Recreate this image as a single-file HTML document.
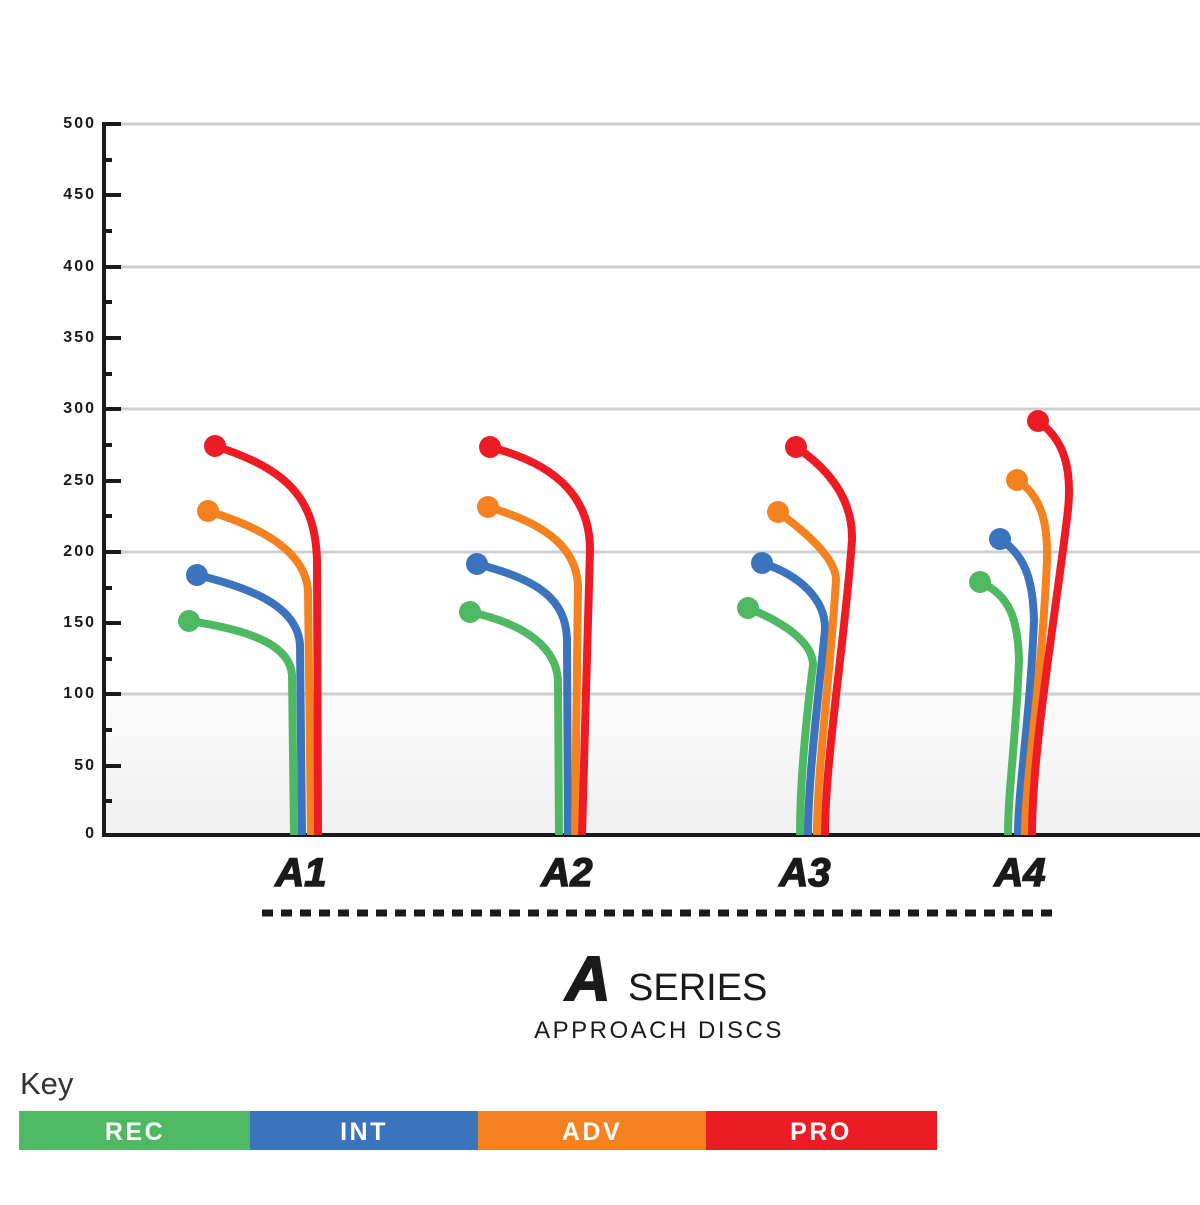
<!DOCTYPE html>
<html><head><meta charset="utf-8"><style>
body{margin:0;background:#fff;width:1200px;height:1200px;overflow:hidden;font-family:"Liberation Sans",sans-serif}
</style></head><body>
<svg width="1200" height="1200" viewBox="0 0 1200 1200" xmlns="http://www.w3.org/2000/svg">
<defs><linearGradient id="bg" x1="0" y1="0" x2="0" y2="1"><stop offset="0" stop-color="#fbfbfb"/><stop offset="1" stop-color="#f0f0f0"/></linearGradient></defs>
<rect x="104" y="694" width="1096" height="141" fill="url(#bg)"/>
<g stroke="#cfcfcf" stroke-width="3">
<line x1="120" y1="124" x2="1200" y2="124"/><line x1="120" y1="267" x2="1200" y2="267"/><line x1="120" y1="409" x2="1200" y2="409"/><line x1="120" y1="552" x2="1200" y2="552"/><line x1="120" y1="694" x2="1200" y2="694"/>
</g>
<g stroke="#1a1a1a">
<line x1="104" y1="122" x2="104" y2="837" stroke-width="4"/>
<line x1="102" y1="835" x2="1200" y2="835" stroke-width="4"/>
<g stroke-width="4">
<line x1="104" y1="124" x2="121" y2="124"/><line x1="104" y1="195" x2="121" y2="195"/><line x1="104" y1="267" x2="121" y2="267"/><line x1="104" y1="338" x2="121" y2="338"/><line x1="104" y1="409" x2="121" y2="409"/><line x1="104" y1="481" x2="121" y2="481"/><line x1="104" y1="552" x2="121" y2="552"/><line x1="104" y1="623" x2="121" y2="623"/><line x1="104" y1="694" x2="121" y2="694"/><line x1="104" y1="766" x2="121" y2="766"/>
<line x1="104" y1="160" x2="112" y2="160"/><line x1="104" y1="231" x2="112" y2="231"/><line x1="104" y1="302" x2="112" y2="302"/><line x1="104" y1="374" x2="112" y2="374"/><line x1="104" y1="445" x2="112" y2="445"/><line x1="104" y1="516" x2="112" y2="516"/><line x1="104" y1="588" x2="112" y2="588"/><line x1="104" y1="659" x2="112" y2="659"/><line x1="104" y1="730" x2="112" y2="730"/><line x1="104" y1="801" x2="112" y2="801"/>
</g></g>
<g font-size="16" font-weight="bold" fill="#1a1a1a" text-anchor="end" letter-spacing="2">
<text x="96" y="128">500</text><text x="96" y="199">450</text><text x="96" y="271">400</text><text x="96" y="342">350</text><text x="96" y="413">300</text><text x="96" y="485">250</text><text x="96" y="556">200</text><text x="96" y="627">150</text><text x="96" y="698">100</text><text x="96" y="770">50</text><text x="96" y="838">0</text>
</g>
<g fill="none" stroke-width="8" stroke-linecap="butt">
<path d="M189,621 C250,630 290,645 292,675 L294,835" stroke="#4fb862"/>
<path d="M197,575 C260,590 298,610 300,645 L302,835" stroke="#3b74bc"/>
<path d="M208,511 C270,530 305,555 308,590 L311,835" stroke="#f58220"/>
<path d="M215,446 C290,470 315,500 317,560 L318,835" stroke="#ed1c24"/>
<path d="M470,612 C530,625 556,650 558,680 L559,835" stroke="#4fb862"/>
<path d="M477,564 C540,580 566,600 567,640 L568,835" stroke="#3b74bc"/>
<path d="M488,507 C550,525 576,550 578,585 L575,835" stroke="#f58220"/>
<path d="M490,447 C560,465 590,500 590,550 L582,835" stroke="#ed1c24"/>
<path d="M748,608 C790,625 813,645 813,665 C806,720 800,780 800,835" stroke="#4fb862"/>
<path d="M762,563 C800,575 826,600 825,630 C818,700 808,780 808,835" stroke="#3b74bc"/>
<path d="M778,512 C810,535 836,560 836,580 C830,680 817,770 817,835" stroke="#f58220"/>
<path d="M796,447 C830,470 853,500 852,540 C845,640 825,760 825,835" stroke="#ed1c24"/>
<path d="M980,582 C1010,595 1018,620 1019,660 C1016,740 1008,790 1008,835" stroke="#4fb862"/>
<path d="M1000,539 C1025,555 1033,580 1034,620 C1030,720 1018,790 1018,835" stroke="#3b74bc"/>
<path d="M1017,480 C1040,495 1048,520 1047,560 C1042,680 1025,780 1025,835" stroke="#f58220"/>
<path d="M1038,421 C1065,440 1072,470 1068,510 C1055,620 1032,750 1032,835" stroke="#ed1c24"/>
</g>
<g>
<circle cx="189" cy="621" r="11" fill="#4fb862"/><circle cx="197" cy="575" r="11" fill="#3b74bc"/><circle cx="208" cy="511" r="11" fill="#f58220"/><circle cx="215" cy="446" r="11" fill="#ed1c24"/>
<circle cx="470" cy="612" r="11" fill="#4fb862"/><circle cx="477" cy="564" r="11" fill="#3b74bc"/><circle cx="488" cy="507" r="11" fill="#f58220"/><circle cx="490" cy="447" r="11" fill="#ed1c24"/>
<circle cx="748" cy="608" r="11" fill="#4fb862"/><circle cx="762" cy="563" r="11" fill="#3b74bc"/><circle cx="778" cy="512" r="11" fill="#f58220"/><circle cx="796" cy="447" r="11" fill="#ed1c24"/>
<circle cx="980" cy="582" r="11" fill="#4fb862"/><circle cx="1000" cy="539" r="11" fill="#3b74bc"/><circle cx="1017" cy="480" r="11" fill="#f58220"/><circle cx="1038" cy="421" r="11" fill="#ed1c24"/>
</g>
<g font-size="40" font-weight="bold" font-style="italic" fill="#1a1a1a" text-anchor="middle" stroke="#1a1a1a" stroke-width="1.5">
<text x="301" y="886">A1</text><text x="567" y="886">A2</text><text x="805" y="886">A3</text><text x="1020" y="886">A4</text>
</g>
<line x1="262" y1="913" x2="1058" y2="913" stroke="#1a1a1a" stroke-width="7" stroke-dasharray="11,8"/>
<text x="588" y="1000" font-size="62" font-weight="bold" font-style="italic" fill="#1a1a1a" stroke="#1a1a1a" stroke-width="2" text-anchor="middle">A</text>
<text x="628" y="1000" font-size="38" fill="#1a1a1a">SERIES</text>
<text x="659" y="1038" font-size="24" fill="#1a1a1a" text-anchor="middle" letter-spacing="2.5">APPROACH DISCS</text>
<text x="20" y="1094" font-size="31" fill="#333">Key</text>
<rect x="19" y="1111" width="231" height="39" fill="#4fb862"/>
<rect x="250" y="1111" width="228" height="39" fill="#3b74bc"/>
<rect x="478" y="1111" width="228" height="39" fill="#f58220"/>
<rect x="706" y="1111" width="231" height="39" fill="#ed1c24"/>
<g font-size="25" font-weight="bold" fill="#fff" text-anchor="middle" letter-spacing="2.5">
<text x="135" y="1140">REC</text><text x="364" y="1140">INT</text><text x="592" y="1140">ADV</text><text x="821" y="1140">PRO</text>
</g>
</svg>
</body></html>
